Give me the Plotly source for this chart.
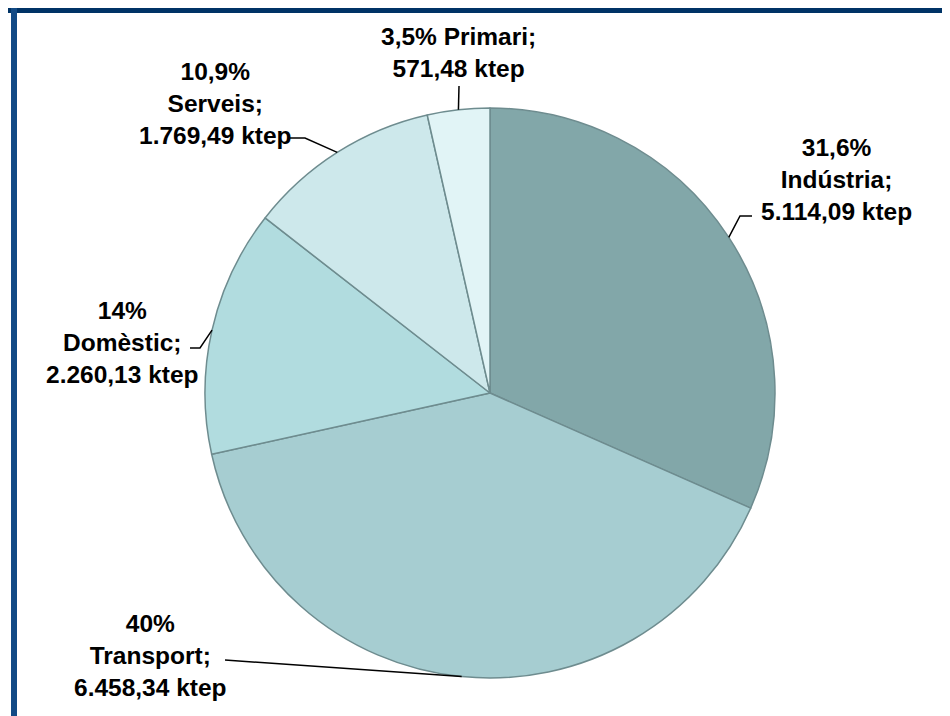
import math
import plotly.graph_objects as go

# ---- data ----
sectors = ["Indústria", "Transport", "Domèstic", "Serveis", "Primari"]
ktep = [5114.09, 6458.34, 2260.13, 1769.49, 571.48]
pct_labels = ["31,6%", "40%", "14%", "10,9%", "3,5%"]
colors = ["#82a7a9", "#a6cdd1", "#b1dcdf", "#cde8eb", "#e1f4f6"]

# ---- layout geometry (screen pixels; page body adds an 8px offset) ----
W, H = 950, 716
OFF = 8
CX, CY, R = 490 - OFF, 393 - OFF, 285
ML, MR, MT, MB = CX - R, W - (CX + R), CY - R, H - (CY + R)


def px(x, y):
    """screen pixel -> paper coordinates"""
    x -= OFF
    y -= OFF
    return (x - ML) / (2 * R), (H - MB - y) / (2 * R)


def fmt_ca(v):
    s = f"{v:,.2f}"
    return s.replace(",", "X").replace(".", ",").replace("X", ".")


# label text centre, and leader path points (elbow/end) in screen pixels
label_pos = [(837, 179), (150, 655), (122, 342), (215, 104), (458, 53)]
leader_pts = [
    [(740, 216), (752, 216)],
    [(225, 660)],
    [(200, 348), (190, 348)],
    [(305, 138), (290, 138)],
    [(459, 86)],
]
label_text = [
    f"{pct_labels[0]}<br>{sectors[0]};<br>{fmt_ca(ktep[0])} ktep",
    f"{pct_labels[1]}<br>{sectors[1]};<br>{fmt_ca(ktep[1])} ktep",
    f"{pct_labels[2]}<br>{sectors[2]};<br>{fmt_ca(ktep[2])} ktep",
    f"{pct_labels[3]}<br>{sectors[3]};<br>{fmt_ca(ktep[3])} ktep",
    f"{pct_labels[4]} {sectors[4]};<br>{fmt_ca(ktep[4])} ktep",
]

fig = go.Figure()
fig.add_trace(go.Pie(
    labels=sectors, values=ktep, sort=False, direction="clockwise", rotation=0,
    marker=dict(colors=colors, line=dict(color="#6e8c8f", width=1.5)),
    textinfo="none", hoverinfo="label+value+percent", showlegend=False,
))

total = sum(ktep)
cum = 0.0
shapes = []
annotations = []
for i, v in enumerate(ktep):
    mid = (cum + v / 2) / total * 2 * math.pi
    cum += v
    ex, ey = CX + OFF + R * math.sin(mid), CY + OFF - R * math.cos(mid)
    pts = [(ex, ey)] + leader_pts[i]
    path = ""
    for j, (x, y) in enumerate(pts):
        X, Y = px(x, y)
        path += ("M" if j == 0 else "L") + f"{X:.5f},{Y:.5f} "
    shapes.append(dict(type="path", xref="paper", yref="paper", path=path,
                       line=dict(color="black", width=1.5)))
    lx, ly = px(*label_pos[i])
    annotations.append(dict(
        x=lx, y=ly, xref="paper", yref="paper", text="<b>" + label_text[i] + "</b>",
        showarrow=False, xanchor="center", yanchor="middle", align="center",
        font=dict(family="Liberation Sans, Arial, sans-serif", size=24.5, color="black"),
    ))

# frame (top and left dark blue borders)
x0, y0 = px(7, 7)
x1, y1 = px(W + OFF, 13)
shapes.append(dict(type="rect", xref="paper", yref="paper", x0=x0, y0=y0, x1=x1, y1=y1,
                   fillcolor="#003366", line=dict(width=0), layer="above"))
x0, y0 = px(11, 7)
x1, y1 = px(17, H + OFF)
shapes.append(dict(type="rect", xref="paper", yref="paper", x0=x0, y0=y0, x1=x1, y1=y1,
                   fillcolor="#124a85", line=dict(width=0), layer="above"))

fig.update_layout(
    width=W, height=H,
    margin=dict(l=ML, r=MR, t=MT, b=MB, pad=0),
    paper_bgcolor="white", plot_bgcolor="white",
    shapes=shapes, annotations=annotations,
)
fig.write_html("out.html")
